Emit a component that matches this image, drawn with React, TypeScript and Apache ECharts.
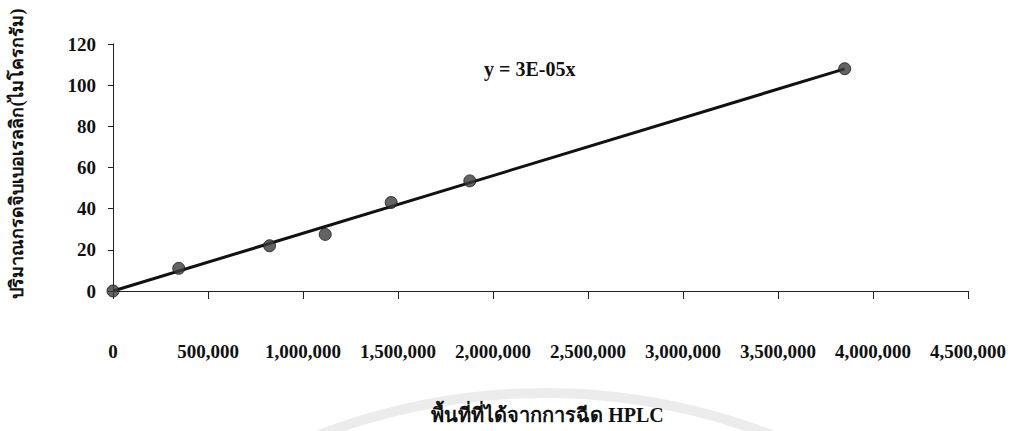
import React, { useEffect, useRef } from "react";
import * as echarts from "echarts";

// HPLC peak area (x) against amount of gibberellic acid in micrograms (y)
const peakAreas = [0, 346000, 824000, 1117000, 1464000, 1878000, 3851000];
const amounts = [0, 11, 22, 27.5, 43, 53.5, 108];

const xTicks = [0, 500000, 1000000, 1500000, 2000000, 2500000, 3000000, 3500000, 4000000, 4500000];
const yTicks = [0, 20, 40, 60, 80, 100, 120];

const yTitle = "ปริมาณกรดจิบเบอเรลลิก(ไมโครกรัม)";
const xTitle = "พื้นที่ที่ได้จากการฉีด HPLC";
const equationText = "y = 3E-05x";

const serif = "'Liberation Serif', 'Times New Roman', serif";

// least-squares slope of a line forced through the origin
function originSlope(xs: number[], ys: number[]): number {
  let sxy = 0;
  let sxx = 0;
  for (let i = 0; i < xs.length; i++) {
    sxy += xs[i] * ys[i];
    sxx += xs[i] * xs[i];
  }
  return sxy / sxx;
}

const fmt = (v: number) => v.toLocaleString("en-US");

export default function App() {
  const ref = useRef<HTMLDivElement>(null);

  useEffect(() => {
    if (!ref.current) return;
    const chart = echarts.init(ref.current, undefined, { renderer: "svg" });
    const slope = originSlope(peakAreas, amounts);
    const xEnd = Math.max(...peakAreas);
    const trend = [
      [0, 0],
      [xEnd, slope * xEnd],
    ];

    chart.setOption({
      animation: false,
      backgroundColor: "#ffffff",
      grid: { left: 110, right: 42, top: 44, bottom: 140, containLabel: false },
      xAxis: {
        type: "value",
        min: xTicks[0],
        max: xTicks[xTicks.length - 1],
        interval: xTicks[1] - xTicks[0],
        splitLine: { show: false },
        axisLine: { show: true, onZero: false, lineStyle: { color: "#222", width: 1 } },
        axisTick: { show: true, inside: false, length: 8, lineStyle: { color: "#222" } },
        axisLabel: {
          formatter: (v: number) => fmt(v),
          margin: 51,
          color: "#111",
          fontFamily: serif,
          fontWeight: "bold",
          fontSize: 19,
        },
        name: xTitle,
        nameLocation: "middle",
        nameGap: 114,
        nameTextStyle: { color: "#111", fontFamily: serif, fontWeight: "bold", fontSize: 20, padding: [0, 0, 0, 14] },
      },
      yAxis: {
        type: "value",
        min: yTicks[0],
        max: yTicks[yTicks.length - 1],
        interval: yTicks[1] - yTicks[0],
        splitLine: { show: false },
        axisLine: { show: true, lineStyle: { color: "#222", width: 1 } },
        axisTick: { show: true, inside: false, length: 5, lineStyle: { color: "#222" } },
        axisLabel: {
          margin: 17,
          color: "#111",
          fontFamily: serif,
          fontWeight: "bold",
          fontSize: 19,
        },
        name: yTitle,
        nameLocation: "middle",
        nameRotate: 90,
        nameGap: 87,
        nameTextStyle: {
          color: "#111",
          fontFamily: serif,
          fontWeight: "bold",
          fontSize: 18,
          padding: [0, 0, 0, 28],
        },
      },
      series: [
        {
          type: "line",
          data: trend,
          symbol: "none",
          lineStyle: { color: "#111", width: 3 },
          z: 2,
        },
        {
          type: "scatter",
          data: peakAreas.map((x, i) => [x, amounts[i]]),
          symbol: "circle",
          symbolSize: 12,
          itemStyle: { color: "#3c3c3c", borderColor: "#151515", borderWidth: 1 },
          z: 3,
        },
      ],
      graphic: [
        {
          type: "circle",
          shape: { cx: 545, cy: 1020, r: 627 },
          style: { fill: "none", stroke: "#ececec", lineWidth: 10 },
          z: -1,
          silent: true,
        },
        {
          type: "text",
          left: 484,
          top: 59,
          style: {
            text: equationText,
            fill: "#111",
            font: `bold 20px ${serif}`,
          },
        },
      ],
    });

    return () => chart.dispose();
  }, []);

  return (
    <div
      ref={ref}
      style={{ position: "fixed", left: 0, top: 0, width: 1010, height: 431 }}
    />
  );
}
